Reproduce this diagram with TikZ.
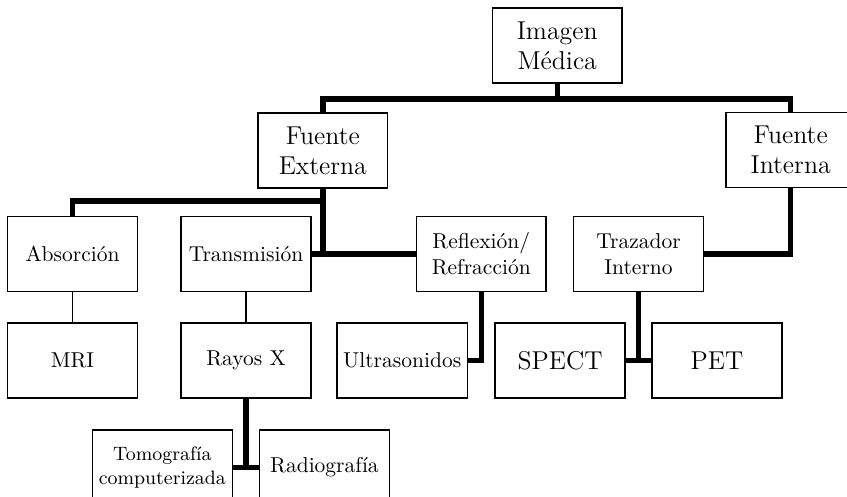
\documentclass[tikz,border=0pt]{standalone}
\usepackage{fontspec}
\usepackage{tikz}
\usetikzlibrary{positioning}

\begin{document}
\begin{tikzpicture}[
  node distance=4.9mm and 4.25mm,
  caja/.style={draw, line width=0.7pt, minimum width=21.2mm,
    minimum height=12.25mm, inner sep=3pt, align=center},
  grande/.style={caja, font=\large},
  media/.style={caja, font=\normalsize},
  chica/.style={caja, font=\small},
  rama/.style={line width=2.5pt},
  fina/.style={line width=0.7pt}
]
  \useasboundingbox (0,0) rectangle (138.4mm,-81.2mm);

  \node[grande] (imagen) at (91.05mm,-7.45mm) {Imagen\\Médica};
  \node[grande] (fext) at (52.75mm,-24.6mm) {Fuente\\Externa};
  \node[grande] (fint) at (129.2mm,-24.5mm) {Fuente\\Interna};

  \node[media] (absor) at (11.85mm,-41.5mm) {Absorción};
  \node[media, right=6.9mm of absor] (trans) {Transmisión};
  \node[media, right=17mm of trans] (refl) {Reflexión/\\Refracción};
  \node[media, right=of refl] (traz) {Trazador\\Interno};

  \node[media, below=of absor] (mri) {MRI};
  \node[media, below=of trans] (rayos) {Rayos X};
  \node[media, below left=4.9mm and 2.1mm of refl.south] (ultra) {Ultrasonidos};
  \node[grande, below left=4.9mm and 2.1mm of traz.south] (spect) {SPECT};
  \node[grande, below right=4.9mm and 2.1mm of traz.south] (pet) {PET};

  \node[chica, below left=5mm and 2.1mm of rayos.south] (tomo) {Tomografía\\computerizada};
  \node[media, below right=5mm and 2.1mm of rayos.south] (radio) {Radiografía};

  \draw[rama] (imagen.south) -- ++(0,-2.45mm) -| (fext.north);
  \draw[rama] (imagen.south) -- ++(0,-2.45mm) -| (fint.north);
  \draw[rama] (fext.south) -- ++(0,-2mm) -| (absor.north);
  \draw[rama] (fext.south) -- (fext.south |- trans.east);
  \draw[rama] (trans.east) -- (refl.west);
  \draw[rama] (refl.south) |- (ultra.east);
  \draw[rama] (traz.east) -| (fint.south);
  \draw[rama] (traz.south) -- (traz.south |- spect.east);
  \draw[rama] (spect.east) -- (pet.west);
  \draw[rama] (rayos.south) -- (rayos.south |- tomo.east);
  \draw[rama] (tomo.east) -- (radio.west);
  \draw[fina] (absor) -- (mri);
  \draw[fina] (trans) -- (rayos);
\end{tikzpicture}
\end{document}
